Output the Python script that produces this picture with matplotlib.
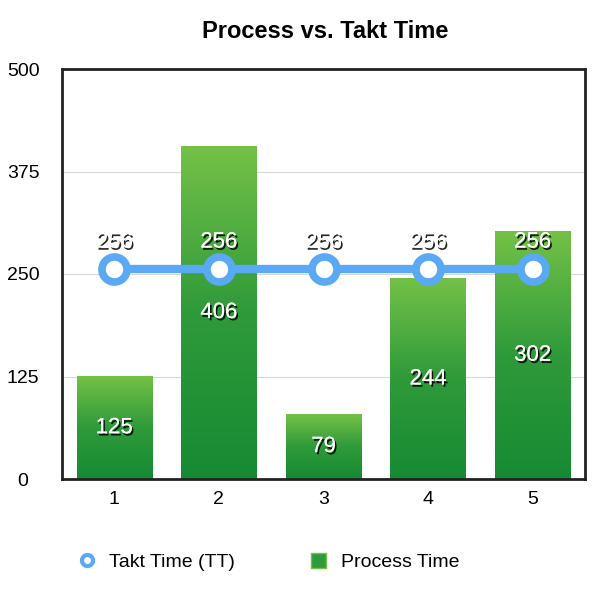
import numpy as np
import matplotlib.pyplot as plt
import matplotlib.patheffects as pe
from matplotlib.colors import LinearSegmentedColormap
from matplotlib.lines import Line2D
from matplotlib.patches import Rectangle

plt.rcParams['font.family'] = ['Liberation Sans', 'DejaVu Sans']

# data
steps = [1, 2, 3, 4, 5]
process_time = [125, 406, 79, 244, 302]
takt_time = [256, 256, 256, 256, 256]

fig = plt.figure(figsize=(6, 5.95), dpi=100)
ax = fig.add_axes([62 / 600, 1 - 479 / 595, 523 / 600, 410 / 595])

green = LinearSegmentedColormap.from_list('grn', ['#168a33', '#2f9a3a', '#74c147'])
grad = np.linspace(0, 1, 256).reshape(-1, 1)
bw = 0.72

shadow = [pe.withSimplePatchShadow(offset=(1.2, -1.6), shadow_rgbFace='black', alpha=0.85),
          pe.Normal()]

# bars with vertical gradient
for x, v in zip(steps, process_time):
    ax.imshow(grad, cmap=green, origin='lower', aspect='auto',
              extent=(x - bw / 2, x + bw / 2, 0, v), zorder=2)
    ax.text(x, v / 2, str(v), ha='center', va='center', color='white',
            fontsize=16, zorder=5, path_effects=shadow)

# takt time line
ax.plot(steps, takt_time, color='#5aa9f5', lw=6, marker='o', ms=18,
        mfc='white', mec='#5aa9f5', mew=5.5, zorder=4, solid_capstyle='butt')
for x, v in zip(steps, takt_time):
    ax.text(x, v + 33, str(v), ha='center', va='center', color='white',
            fontsize=16, zorder=5, path_effects=shadow)

ax.set_xlim(0.5, 5.5)
ax.set_ylim(0, 500)
ax.set_yticks([0, 125, 250, 375, 500])
ax.set_xticks(steps)
ax.yaxis.grid(True, color='#d8d8d8', lw=0.8)
ax.set_axisbelow(True)
ax.tick_params(length=0, labelsize=14)
ax.tick_params(axis='x', pad=9)
ax.tick_params(axis='y', pad=28)
for lbl in ax.get_yticklabels():
    lbl.set_horizontalalignment('center')
for s in ax.spines.values():
    s.set_color('#222222')
    s.set_linewidth(2)

fig.text(325 / 600, 1 - 32 / 595, 'Process vs. Takt Time', ha='center', va='center',
         fontsize=17, fontweight='bold')

handles = [Line2D([], [], color='#5aa9f5', marker='o', lw=0, ms=8, mfc='white', mew=3),
           Rectangle((0, 0), 1, 1, facecolor='#2f9a3a', edgecolor='#74c147')]
fig.legend(handles, ['Takt Time (TT)', 'Process Time'], loc='center',
           bbox_to_anchor=(269 / 600, 1 - 562 / 595), ncol=2, frameon=False,
           fontsize=14, columnspacing=3.9, handlelength=0.8, handleheight=0.8,
           handletextpad=0.75)

fig.savefig('out.png', dpi=100)
